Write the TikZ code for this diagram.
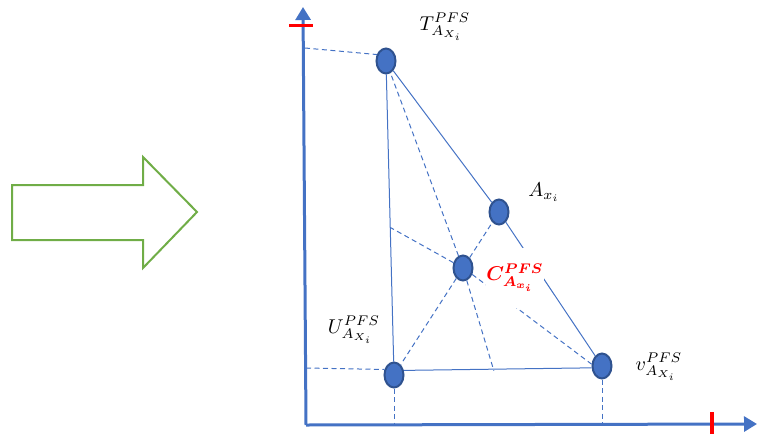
\documentclass[tikz,border=0pt]{standalone}
\usepackage{amsmath}
\usepackage{bm}
\usetikzlibrary{
calc,
arrows.meta,
shapes.geometric
}

\definecolor{ptblue}{RGB}{68,114,196}
\definecolor{ptedge}{RGB}{47,82,143}
\definecolor{arrgreen}{RGB}{112,173,71}

\begin{document}
\begin{tikzpicture}[x=1pt,y=-1pt,>=latex,
  pt/.style={ellipse,draw=ptedge,line width=2pt,fill=ptblue,minimum width=19pt,minimum height=25pt,inner sep=0pt},
  lbl/.style={scale=2},
  axis/.style={ptblue,line width=3pt,-{Triangle[length=13pt,width=15pt]}},
  edge/.style={ptblue,line width=1pt},
  guide/.style={ptblue,line width=1pt,dash pattern=on 5pt off 3.5pt}]

\useasboundingbox (0,0) rectangle (757,434);

% Big arrow
\draw[arrgreen,line width=2pt,line join=miter]
(12,185) -- (143,185) -- (143,157) -- (197,212)
-- (143,268) -- (143,240) -- (12,240) -- cycle;

% Axes
\coordinate (O) at (306,425);
\coordinate (ytop) at (303,7);
\coordinate (xend) at (757,424);
\draw[axis] (O) -- (ytop);
\draw[axis] (O) -- (xend);

% Ticks
\draw[red,line width=3pt] (289,25) -- (313,25);
\draw[red,line width=3.5pt] (712,412) -- (712,434);

% Points
\node[pt] (T) at (386,61) {};
\node[pt] (A) at (499,212) {};
\node[pt] (C) at (463,268) {};
\node[pt] (U) at (394,375) {};
\node[pt] (V) at (602,366) {};

% Triangle
\draw[edge] (T) -- (A) -- (V);
\draw[edge] (T) -- (U);
\draw[edge] (U.25) -- (V.190);

% Projections
\coordinate (Ty) at (305,48);
\coordinate (Uy) at (306,368);
\coordinate (Ux) at (394,425);
\coordinate (Vx) at (602,425);
\draw[guide] (Ty) -- (T.145);
\draw[guide] (Uy) -- (U.150);
\draw[guide] (U) -- (Ux);
\draw[guide] (V) -- (Vx);

% Lines through the centre
\coordinate (TU) at ($(T)!0.53!(U)$);
\coordinate (UV) at ($(U)!0.48!(V)$);
\draw[guide] (C) -- (T);
\draw[guide] (C) -- (A);
\draw[guide] (C) -- (U);
\draw[guide] (C.-35) -- (V.170);
\draw[guide] (C) -- (TU);
\draw[guide] (C) -- (UV);

% Labels
\node[lbl] (Tl) at (445,27) {$T^{PFS}_{A_{X_i}}$};
\node[lbl] (Al) at (544,192) {$A_{x_i}$};
\node[lbl,fill=white,text=red,inner sep=0pt,minimum width=28pt,minimum height=30pt] (Cl) at (515,278) {$\bm{C^{PFS}_{A_{x_i}}}$};
\node[lbl] (Ul) at (354,330) {$U^{PFS}_{A_{X_i}}$};
\node[lbl] (Vl) at (659,367) {$v^{PFS}_{A_{X_i}}$};

\end{tikzpicture}
\end{document}
